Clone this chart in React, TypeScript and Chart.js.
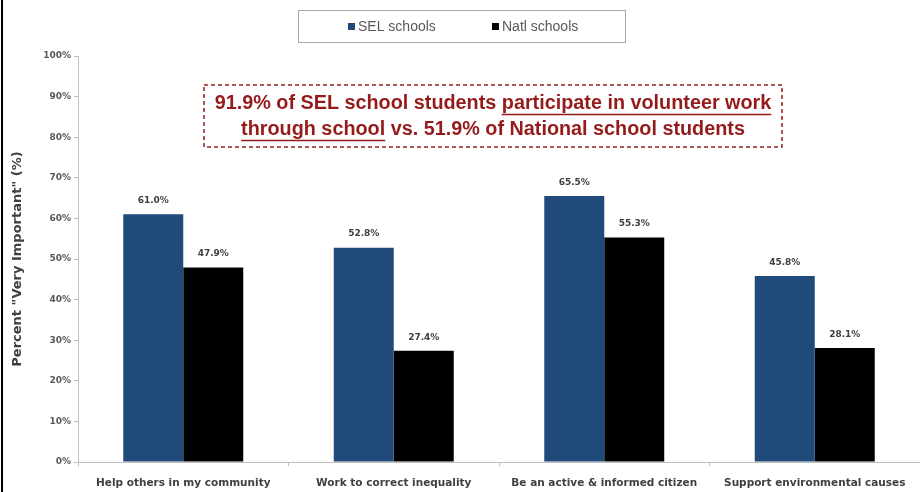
import React, { useEffect, useRef } from 'react';
import { Chart, registerables } from 'chart.js';

Chart.register(...registerables);

const categories = [
  'Help others in my community',
  'Work to correct inequality',
  'Be an active & informed citizen',
  'Support environmental causes',
];
const seriesNames = ['SEL schools', 'Natl schools'];
const selValues = [61.0, 52.8, 65.5, 45.8];
const natlValues = [47.9, 27.4, 55.3, 28.1];
const seriesColors = ['#1F4A7A', '#000000'];
const yAxisTitle = 'Percent "Very Important" (%)';
const calloutLine1 = [
  { text: '91.9% of SEL school students ', underline: false },
  { text: 'participate in volunteer work', underline: true },
];
const calloutLine2 = [
  { text: 'through school', underline: true },
  { text: ' vs. 51.9% of National school students', underline: false },
];

const FONT = '"Liberation Sans", Arial, sans-serif';
const AXFONT = '"DejaVu Sans", Verdana, sans-serif';
const RED = '#951B1B';

const decorPlugin = {
  id: 'decor',
  afterDraw(chart: any) {
    const ctx = chart.ctx as CanvasRenderingContext2D;
    ctx.save();
    // left frame line
    ctx.fillStyle = '#000';
    ctx.fillRect(1, 0, 2, chart.height);

    // legend box
    ctx.strokeStyle = '#A6A6A6';
    ctx.lineWidth = 1;
    ctx.strokeRect(298.5, 10.5, 327, 32);
    ctx.font = `14px ${FONT}`;
    ctx.textBaseline = 'middle';
    const legendX = [348, 492];
    chart.data.datasets.forEach((ds: any, i: number) => {
      ctx.fillStyle = ds.backgroundColor;
      ctx.fillRect(legendX[i], 23, 7, 7);
      ctx.fillStyle = '#595959';
      ctx.textAlign = 'left';
      ctx.fillText(ds.label, legendX[i] + 10, 27);
    });

    // callout box
    ctx.strokeStyle = RED;
    ctx.lineWidth = 1.5;
    ctx.setLineDash([4, 3]);
    ctx.strokeRect(204, 85, 578, 62);
    ctx.setLineDash([]);
    ctx.font = `bold 18px ${FONT}`;
    const w1 = ctx.measureText(calloutLine1.map((p) => p.text).join('')).width;
    const size = (18 * 557) / w1;
    const drawLine = (parts: { text: string; underline: boolean }[], cy: number) => {
      ctx.font = `bold ${size}px ${FONT}`;
      const full = parts.map((p) => p.text).join('');
      const w = ctx.measureText(full).width;
      let x = 493 - w / 2;
      ctx.fillStyle = RED;
      ctx.strokeStyle = RED;
      ctx.lineWidth = 1.5;
      ctx.textAlign = 'left';
      ctx.textBaseline = 'middle';
      parts.forEach((p) => {
        const pw = ctx.measureText(p.text).width;
        ctx.fillText(p.text, x, cy);
        if (p.underline) {
          ctx.beginPath();
          ctx.moveTo(x, cy + 10.5);
          ctx.lineTo(x + pw, cy + 10.5);
          ctx.stroke();
        }
        x += pw;
      });
    };
    drawLine(calloutLine1, 104);
    drawLine(calloutLine2, 130);

    // data labels
    ctx.font = `bold 9px ${AXFONT}`;
    ctx.fillStyle = '#404040';
    ctx.textAlign = 'center';
    ctx.textBaseline = 'bottom';
    chart.data.datasets.forEach((ds: any, i: number) => {
      const meta = chart.getDatasetMeta(i);
      meta.data.forEach((el: any, j: number) => {
        ctx.fillText(ds.data[j].toFixed(1) + '%', el.x, el.y - 9);
      });
    });
    ctx.restore();
  },
};

export default function App() {
  const ref = useRef<HTMLCanvasElement | null>(null);
  useEffect(() => {
    if (!ref.current) return;
    const chart = new Chart(ref.current, {
      type: 'bar',
      data: {
        labels: categories,
        datasets: [
          { label: seriesNames[0], data: selValues, backgroundColor: seriesColors[0] },
          { label: seriesNames[1], data: natlValues, backgroundColor: seriesColors[1] },
        ],
      },
      options: {
        animation: false,
        responsive: false,
        maintainAspectRatio: false,
        layout: { padding: { top: 56, left: 0, right: 0, bottom: 0 } },
        datasets: { bar: { categoryPercentage: 0.57, barPercentage: 1.0 } },
        plugins: { legend: { display: false }, tooltip: { enabled: false } },
        scales: {
          x: {
            afterFit: (s: any) => { s.height = 30; },
            grid: { display: true, drawOnChartArea: false, drawTicks: true, tickLength: 4, color: '#BFBFBF', offset: true },
            border: { color: '#BFBFBF' },
            ticks: { color: '#404040', font: { family: AXFONT, size: 10.5, weight: 'bold' }, padding: 11, maxRotation: 0, autoSkip: false },
          },
          y: {
            min: 0,
            max: 100,
            afterFit: (s: any) => { s.width = 78; },
            grid: { display: true, drawOnChartArea: false, drawTicks: true, tickLength: 4, color: '#BFBFBF' },
            border: { color: '#BFBFBF' },
            ticks: { stepSize: 10, padding: 3, color: '#595959', font: { family: AXFONT, size: 9, weight: 'bold' }, callback: (v: any) => v + '%' },
            title: { display: true, text: yAxisTitle, color: '#404040', font: { family: AXFONT, size: 13, weight: 'bold' }, padding: { top: 10, bottom: 0 } },
          },
        },
      },
      plugins: [decorPlugin],
    });
    return () => chart.destroy();
  }, []);
  return (
    <div style={{ position: 'fixed', left: 0, top: 0, width: 920, height: 492, background: '#fff' }}>
      <canvas ref={ref} width={920} height={492} style={{ width: 920, height: 492 }} />
    </div>
  );
}
